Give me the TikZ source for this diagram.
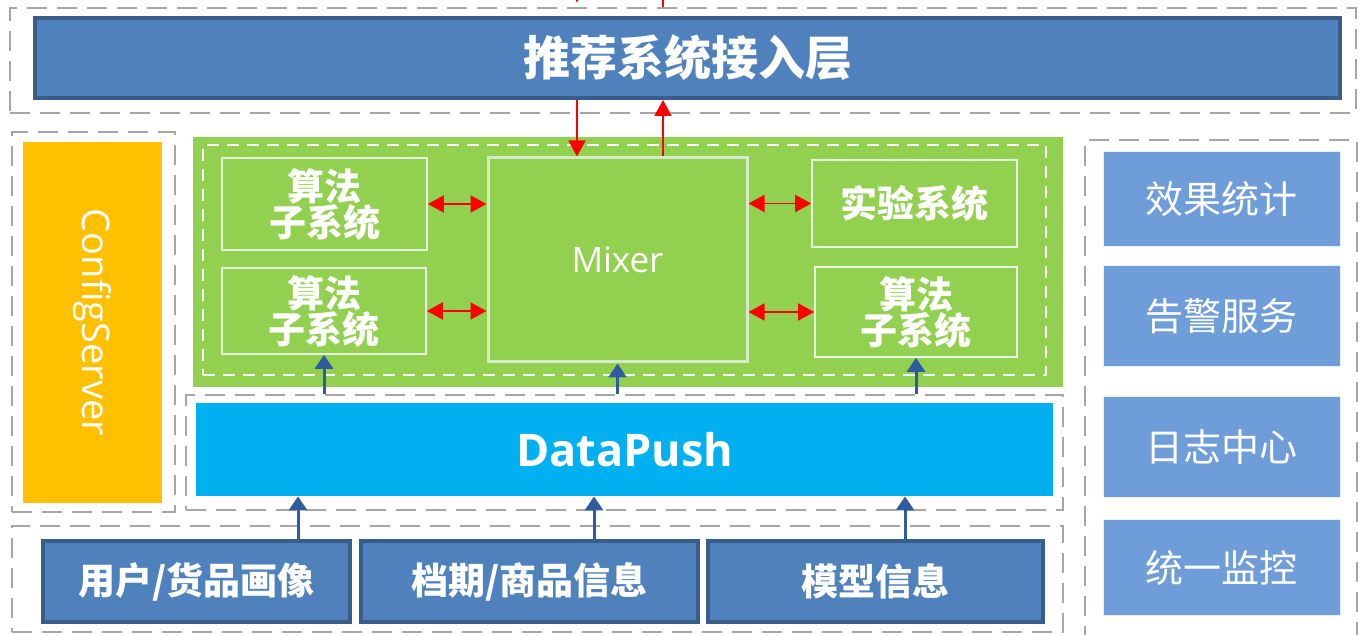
\documentclass[tikz,border=0pt]{standalone}
\usepackage{fontspec}
\setmainfont{Open Sans}
\newfontfamily\cjk{Noto Sans CJK SC}
\usetikzlibrary{fit,arrows.meta}
\definecolor{barblue}{HTML}{4F81BD}
\definecolor{barborder}{HTML}{385D8A}
\definecolor{mygreen}{HTML}{92D050}
\definecolor{mycyan}{HTML}{00B0F0}
\definecolor{myorange}{HTML}{FFC000}
\definecolor{rightblue}{HTML}{6F9DD9}
\definecolor{framegray}{HTML}{A6A6A6}
\definecolor{arrblue}{HTML}{2E5C9E}
\definecolor{mixborder}{HTML}{D5EACB}
\definecolor{subborder}{HTML}{EAF5E2}
\tikzset{
  box/.style={inner sep=0pt},
  txt/.style={inner sep=0pt, text=white, align=center},
  dashframe/.style={box, draw=framegray, line width=1.4pt, dash pattern=on 10pt off 5pt},
  darkbox/.style={box, fill=barblue, draw=barborder, line width=2pt},
  subbox/.style={box, draw=subborder, line width=0.8pt},
  rbox/.style={box, fill=rightblue, draw=white!85!rightblue, line width=0.5pt},
  redarr/.style={draw=red, line width=0.9pt, -{Triangle[length=8pt,width=8.5pt]}},
  redline/.style={draw=red, line width=0.9pt},
  redboth/.style={draw=red, line width=0.9pt, {Triangle[length=8pt,width=8.5pt]}-{Triangle[length=8pt,width=8.5pt]}},
  bluearr/.style={draw=arrblue, line width=1.5pt, -{Triangle[length=7pt,width=9pt]}},
  cjkbig/.style={txt, font=\cjk\bfseries\fontsize{23.5pt}{24pt}\selectfont},
  cjkmid/.style={txt, font=\cjk\bfseries\fontsize{18.5pt}{18pt}\selectfont},
  cjkreg/.style={txt, font=\cjk\fontsize{19pt}{20pt}\selectfont},
}
\begin{document}
\begin{tikzpicture}[x=0.5pt,y=-0.5pt]
\clip (0,0) rectangle (1359,635);
\fill[white] (0,0) rectangle (1359,635);

% frames
\node[dashframe, fit={(10,8)(1356,113)}] (topframe) {};
\node[dashframe, fit={(12,132)(175,512)}] (cfgframe) {};
\node[dashframe, fit={(186,395)(1063,510)}] (dpframe) {};
\node[dashframe, fit={(12,526)(1063,632)}] (botframe) {};
\node[dashframe, fit={(1085,140)(1357,640)}] (rframe) {};

% top bar
\node[darkbox, fit={(35,18)(1340,98)}] (bar) {};
\node[cjkbig] (bartext) at (bar.center) {推荐系统接入层};

% config server
\node[box, fill=myorange, fit={(23,142)(162,503)}] (cfg) {};
\node[txt, rotate=-90, font=\fontsize{19pt}{20pt}\selectfont] (cfgtext) at (cfg.center) {ConfigServer};

% green area
\node[box, fill=mygreen, fit={(193,137)(1063,387)}] (green) {};
\node[box, draw=white, line width=1pt, dash pattern=on 6pt off 4pt, fit={(203,145)(1046,375)}] (greeninner) {};

\node[subbox, fit={(222,158)(427,250)}] (s1) {};
\node[cjkmid] (s1t) at (s1.center) {算法\\子系统};
\node[subbox, fit={(222,268)(426,354)}] (s2) {};
\node[cjkmid] (s2t) at (s2.center) {算法\\子系统};
\node[box, draw=mixborder, line width=1.5pt, fit={(488,158)(747,362)}] (mixer) {};
\node[txt, font=\fontsize{17.5pt}{18pt}\selectfont] (mixert) at (mixer.center) {Mixer};
\node[subbox, fit={(812,160)(1017,247)}] (exp) {};
\node[cjkmid] (expt) at (exp.center) {实验系统};
\node[subbox, fit={(815,267)(1017,357)}] (s3) {};
\node[cjkmid] (s3t) at (s3.center) {算法\\子系统};

% datapush
\node[box, fill=mycyan, fit={(196,403)(1053,496)}] (dp) {};
\node[txt, font=\bfseries\fontsize{22.5pt}{23pt}\selectfont] (dpt) at (dp.center) {DataPush};

% bottom boxes
\node[darkbox, fit={(43,541)(350,622)}] (b1) {};
\node[cjkmid] (b1t) at (b1.center) {用户/货品画像};
\node[darkbox, fit={(361,541)(698,622)}] (b2) {};
\node[cjkmid] (b2t) at (b2.center) {档期/商品信息};
\node[darkbox, fit={(708,541)(1043,622)}] (b3) {};
\node[cjkmid] (b3t) at (b3.center) {模型信息};

% right boxes
\node[rbox, fit={(1103,152)(1340,247)}] (r1) {};
\node[cjkreg] (r1t) at (r1.center) {效果统计};
\node[rbox, fit={(1103,266)(1340,367)}] (r2) {};
\node[cjkreg] (r2t) at (r2.center) {告警服务};
\node[rbox, fit={(1103,397)(1340,498)}] (r3) {};
\node[cjkreg] (r3t) at (r3.center) {日志中心};
\node[rbox, fit={(1103,520)(1340,615)}] (r4) {};
\node[cjkreg] (r4t) at (r4.center) {统一监控};

% red connectors
\coordinate (tin) at (577,-30);
\coordinate (tout) at (663,-30);
\draw[redarr, shorten >=2pt] (tin) -- (topframe.north -| tin);
\draw[redline] (topframe.north -| tout) -- (tout);
\draw[redarr] (bar.south -| tin) -- (mixer.north -| tin);
\draw[redarr] (mixer.north -| tout) -- (bar.south -| tout);
\draw[redboth] (s1.east) -- (s1.east -| mixer.west);
\draw[redboth] (s2.east) -- (s2.east -| mixer.west);
\draw[redboth] (exp.west -| mixer.east) -- (exp.west);
\draw[redboth] (s3.west -| mixer.east) -- (s3.west);

% blue connectors
\draw[bluearr] (dpframe.north -| s2.south) -- (s2.south);
\draw[bluearr] (dpframe.north -| mixer.south) -- (mixer.south);
\draw[bluearr] (dpframe.north -| s3.south) -- (s3.south);
\draw[bluearr] (b1.north -| 298,0) -- (dp.south -| 298,0);
\draw[bluearr] (b2.north -| 594,0) -- (dp.south -| 594,0);
\draw[bluearr] (b3.north -| 905,0) -- (dp.south -| 905,0);
\end{tikzpicture}
\end{document}
